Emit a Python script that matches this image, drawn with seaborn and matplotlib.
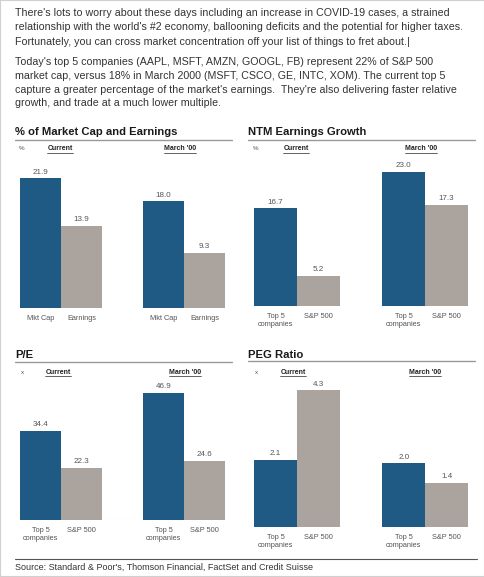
import matplotlib
matplotlib.use("Agg")
import matplotlib.pyplot as plt
import seaborn as sns
import pandas as pd
from matplotlib.lines import Line2D
from matplotlib.patches import Rectangle

# ---------------- data ----------------
periods = ["Current", "March '00"]

mc_series = ["Mkt Cap", "Earnings"]
mc_current = [21.9, 13.9]
mc_march = [18.0, 9.3]

grp_series = ["Top 5\ncompanies", "S&P 500"]
growth_current = [16.7, 5.2]
growth_march = [23.0, 17.3]

pe_current = [34.4, 22.3]
pe_march = [46.9, 24.6]

peg_current = [2.1, 4.3]
peg_march = [2.0, 1.4]

titles = ["% of Market Cap and Earnings", "NTM Earnings Growth", "P/E", "PEG Ratio"]
units = ["%", "%", "x", "x"]

body_text = [
    "There's lots to worry about these days including an increase in COVID-19 cases, a strained",
    "relationship with the world's #2 economy, ballooning deficits and the potential for higher taxes.",
    "Fortunately, you can cross market concentration off your list of things to fret about.|",
]
body_text2 = [
    "Today's top 5 companies (AAPL, MSFT, AMZN, GOOGL, FB) represent 22% of S&P 500",
    "market cap, versus 18% in March 2000 (MSFT, CSCO, GE, INTC, XOM). The current top 5",
    "capture a greater percentage of the market's earnings.  They're also delivering faster relative",
    "growth, and trade at a much lower multiple.",
]
source = "Source: Standard & Poor's, Thomson Financial, FactSet and Credit Suisse"

BLUE = "#1f5a85"
GREY = "#aaa39e"
TXT = "#333333"
SUB = "#555555"

W, H = 485, 577
sns.set_theme(style="white")
plt.rcParams["font.family"] = ["Liberation Sans", "DejaVu Sans"]

fig = plt.figure(figsize=(W / 100, H / 100), dpi=100)
fig.patch.set_facecolor("white")


def fx(x):
    return x / W


def fy(y):
    return 1 - y / H


def px_axes(x0, x1, ytop, ybot):
    return fig.add_axes([fx(x0), fy(ybot), (x1 - x0) / W, (ybot - ytop) / H])


def make_df(series, cur, mar):
    rows = []
    for s, v in zip(series, cur):
        rows.append({"period": periods[0], "series": s, "value": v})
    for s, v in zip(series, mar):
        rows.append({"period": periods[1], "series": s, "value": v})
    return pd.DataFrame(rows)


panels = [
    dict(df=make_df(mc_series, mc_current, mc_march), series=mc_series,
         box=(20, 225, 160, 308), ylim=(0, 25)),
    dict(df=make_df(grp_series, growth_current, growth_march), series=grp_series,
         box=(254, 468, 160, 306), ylim=(0, 25)),
    dict(df=make_df(grp_series, pe_current, pe_march), series=grp_series,
         box=(20, 225, 380, 520), ylim=(5.25, 51.2)),
    dict(df=make_df(grp_series, peg_current, peg_march), series=grp_series,
         box=(254, 468, 384, 527), ylim=(0, 4.5)),
]

for p in panels:
    ax = px_axes(*p["box"])
    sns.barplot(data=p["df"], x="period", y="value", hue="series",
                hue_order=p["series"], palette=[BLUE, GREY], width=0.667,
                saturation=1, legend=False, ax=ax, edgecolor="none", linewidth=0)
    ax.set_xlim(-0.3335, 1.3335)
    ax.set_ylim(*p["ylim"])
    for sp in ax.spines.values():
        sp.set_visible(False)
    ax.set_yticks([])
    ax.set_xlabel("")
    ax.set_ylabel("")
    bars = sorted(ax.patches, key=lambda r: r.get_x())
    centers = [b.get_x() + b.get_width() / 2 for b in bars]
    ax.set_xticks(centers)
    ax.set_xticklabels(p["series"] * 2, fontsize=5.3, color=SUB, linespacing=1.3, va="top")
    ax.tick_params(axis="x", length=0, pad=5)
    ax.axhline(p["ylim"][0], color="#e4e4e4", lw=0.8, zorder=0)
    for c in ax.containers:
        ax.bar_label(c, fmt="%.1f", padding=2, fontsize=5.8, color=SUB)
    ax.set_facecolor("none")

# ---------------- body text ----------------
for i, line in enumerate(body_text):
    fig.text(fx(15), fy(13 + 14.3 * i), line, fontsize=7.7, color=TXT, va="center", ha="left")
for i, line in enumerate(body_text2):
    fig.text(fx(15), fy(62 + 13.8 * i), line, fontsize=7.7, color=TXT, va="center", ha="left")

# ---------------- panel titles ----------------
title_pos = [(15, 132, 232, 140), (248, 132, 475, 140), (15, 355, 232, 361.5), (248, 355, 475, 361)]
for t, (x, y, x2, yl) in zip(titles, title_pos):
    fig.text(fx(x), fy(y), t, fontsize=8.1, fontweight="bold", color="#1a1a1a",
             va="center", ha="left")
    fig.add_artist(Line2D([fx(x), fx(x2)], [fy(yl), fy(yl)], color="#999999", lw=1.0))

# ---------------- sub headers ----------------
hdr = [
    (22, 149, 60, 180),
    (256, 149, 296, 421),
    (22, 372, 58, 185),
    (256, 372, 293, 425),
]
under = []
for u, (ux, y, cx, mx) in zip(units, hdr):
    fig.text(fx(ux), fy(y), u, fontsize=4.5, color=SUB, va="center", ha="center")
    for lab, xx in zip(periods, (cx, mx)):
        t = fig.text(fx(xx), fy(y), lab, fontsize=5, color="#222222", fontweight="bold",
                     va="center", ha="center")
        under.append(t)

fig.canvas.draw()
r = fig.canvas.get_renderer()
for t in under:
    bb = t.get_window_extent(r)
    yb = bb.y0 - 0.6
    fig.add_artist(Line2D([bb.x0 / W, bb.x1 / W], [yb / H, yb / H], color="#222222", lw=0.5))

# ---------------- source ----------------
fig.add_artist(Line2D([fx(15), fx(477)], [fy(559), fy(559)], color="#555555", lw=0.8))
fig.text(fx(15), fy(567.5), source, fontsize=6.5, color=TXT, va="center", ha="left")

# frame
fig.add_artist(Rectangle((0, 0), 1, 1, transform=fig.transFigure, fill=False,
                         edgecolor="#d0d0d0", lw=1.5))

fig.savefig("out.png", dpi=100, facecolor="white")
